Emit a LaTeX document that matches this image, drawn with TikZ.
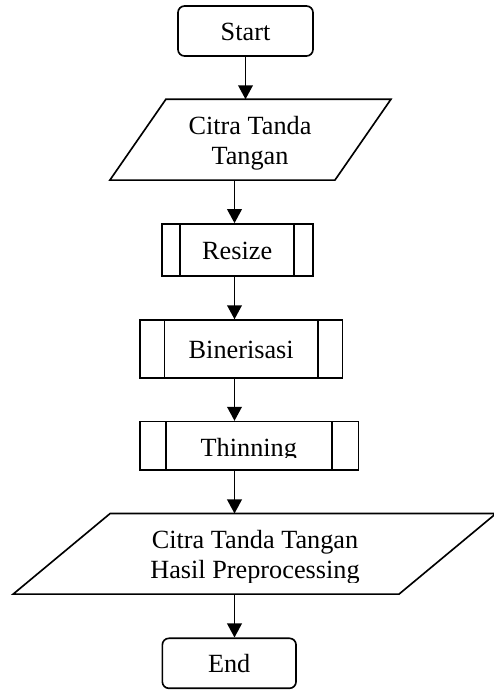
\documentclass[tikz,border=0pt]{standalone}
\usepackage{fontspec}
\setmainfont{Liberation Serif}
\usetikzlibrary{arrows.meta}

\begin{document}
\begin{tikzpicture}[x=0.457pt, y=-0.457pt, line width=0.75pt,
        every node/.style={font=\fontsize{12}{13.6}\selectfont, inner sep=0pt},
        term/.style={draw, rounded corners=3pt, text height=8.6pt, text depth=0pt},
        proc/.style={draw, text height=8.6pt, text depth=0pt, path picture={\draw[line width=0.75pt] ([xshift=#1]path picture bounding box.north west) -- ([xshift=#1]path picture bounding box.south west) ([xshift=-#1]path picture bounding box.north east) -- ([xshift=-#1]path picture bounding box.south east);}},
        flow/.style={-{Triangle[length=6.4pt, width=6.7pt]}}]
        \useasboundingbox (0,0) rectangle (494,691);
        \coordinate (spine) at (234.5,0);
        \node[term, minimum width=61.7pt, minimum height=22.85pt] (start) at (245.5,31) {Start};
        \node[minimum width=102.1pt, minimum height=36.2pt] (input) at (250.4,139.7) {};
        \draw ([shift={(28,0)}]input.north west) -- ([shift={(28,0)}]input.north east) -- ([shift={(-28,0)}]input.south east) -- ([shift={(-28,0)}]input.south west) -- cycle;
        \node[align=center, anchor=base] (inputtext) at (250,164) {Citra Tanda\\Tangan};
        \node[proc=8.4pt, minimum width=69pt, minimum height=23.8pt] (resize) at (237.2,250) {Resize};
        \node[proc=11.2pt, minimum width=92.5pt, minimum height=26.6pt] (biner) at (241.2,349.2) {Binerisasi};
        \node[proc=12pt, minimum width=99.8pt, minimum height=22.1pt] (thin) at (249.2,445.8) {};
        \begin{scope}
                \clip (thin.north west) rectangle (494,457.7);
                \node[anchor=base] (thintext) at (248.8,456.7) {Thinning};
        \end{scope}
        \node[minimum width=175.6pt, minimum height=36.1pt] (output) at (254.6,553.8) {};
        \draw ([shift={(48.5,0)}]output.north west) -- ([shift={(48.5,0)}]output.north east) -- ([shift={(-48.5,0)}]output.south east) -- ([shift={(-48.5,0)}]output.south west) -- cycle;
        \begin{scope}
                \clip (0,500) rectangle (494,582.3);
                \node[align=center, anchor=base] (outputtext) at (255,578.5) {Citra Tanda Tangan\\Hasil Preprocessing};
        \end{scope}
        \node[term, minimum width=61.1pt, minimum height=22.85pt] (stop) at (229.2,663.3) {End};
        \draw[flow] (start) -- (start |- input.north);
        \draw[flow] (input.south -| spine) -- (resize.north -| spine);
        \draw[flow] (resize.south -| spine) -- (biner.north -| spine);
        \draw[flow] (biner.south -| spine) -- (thin.north -| spine);
        \draw[flow] (thin.south -| spine) -- (output.north -| spine);
        \draw[flow] (output.south -| spine) -- (stop.north -| spine);
\end{tikzpicture}
\end{document}
